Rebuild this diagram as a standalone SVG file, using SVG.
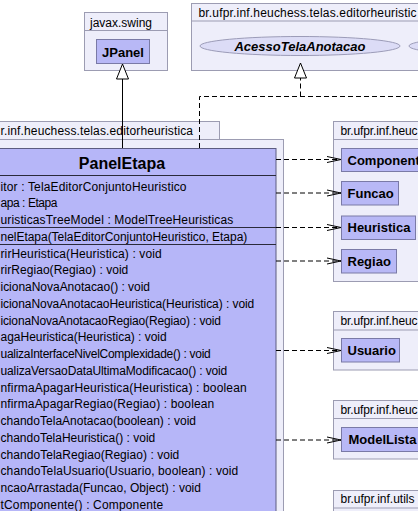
<svg xmlns="http://www.w3.org/2000/svg" width="418" height="511" viewBox="0 0 418 511">
<style>
text{font-family:"Liberation Sans",Arial,sans-serif;fill:#000}
.pk{fill:#EEEEFA;stroke:#9C9CB2;stroke-width:1}
.pl{font-size:12px}
.cl{fill:#B8B8F6;stroke:#7A7AA6;stroke-width:1}
.cn{font-size:13px;font-weight:bold}
.mb{font-size:12px}
.sep{stroke:#2A2A3A;stroke-width:1}
.if{fill:#DCDCF6;stroke:#9C9CB8;stroke-width:1}
.dep{fill:none;stroke:#000;stroke-width:1;stroke-dasharray:5,3}
.gen{fill:none;stroke:#000;stroke-width:1}
</style>
<defs>
<marker id="open" viewBox="-1 -4 16 8" refX="14" refY="0" markerWidth="16" markerHeight="8" markerUnits="userSpaceOnUse" orient="auto">
<path d="M0,-3 L14,0 L0,3" fill="none" stroke="#000" stroke-width="1" stroke-dasharray="none"/>
</marker>
<marker id="tri" viewBox="-1 -7 17 14" refX="15" refY="0" markerWidth="17" markerHeight="14" markerUnits="userSpaceOnUse" orient="auto">
<path d="M0,-6 L15,0 L0,6 Z" fill="#fff" stroke="#000" stroke-width="1" stroke-dasharray="none"/>
</marker>
</defs>

<g id="pkg-swing">
<rect class="pk" x="84.5" y="12.5" width="83" height="58"/>
<line class="pk" x1="84.5" y1="30.5" x2="167.5" y2="30.5"/>
<text class="pl" x="90" y="26.5">javax.swing</text>
</g>
<g id="JPanel">
<rect class="cl" x="96.5" y="39.5" width="53" height="24"/>
<text class="cn" x="123" y="56.5" text-anchor="middle">JPanel</text>
</g>

<g id="pkg-editor-top">
<rect class="pk" x="191.5" y="3.5" width="240" height="67"/>
<line class="pk" x1="191.5" y1="21" x2="431.5" y2="21"/>
<text class="pl" x="198.5" y="17.3" textLength="218" lengthAdjust="spacing">br.ufpr.inf.heuchess.telas.editorheuristic</text>
</g>
<g id="AcessoTelaAnotacao">
<ellipse class="if" cx="300" cy="46" rx="100" ry="9.5"/>
<text x="300" y="50.7" text-anchor="middle" style="font-size:13px;font-weight:bold;font-style:italic">AcessoTelaAnotacao</text>
</g>
<g id="interface2">
<ellipse class="if" cx="509" cy="46" rx="100" ry="9.5"/>
</g>

<g id="pkg-editor">
<rect class="pk" x="-50" y="121.5" width="269.5" height="18"/>
<rect class="pk" x="-50" y="139.5" width="333.5" height="400"/>
<text class="pl" x="0.5" y="135" textLength="192.5" lengthAdjust="spacing">r.inf.heuchess.telas.editorheuristica</text>
</g>
<g id="PanelEtapa">
<rect x="-40" y="148.5" width="316" height="400" fill="#B6B6F8" stroke="#5C5C80" stroke-width="1"/>
<text x="122" y="168.5" text-anchor="middle" style="font-size:16px;font-weight:bold">PanelEtapa</text>
<line class="sep" x1="-40" y1="175.5" x2="276" y2="175.5"/>
<text class="mb" x="0.5" y="190.7" textLength="186" lengthAdjust="spacing">itor : TelaEditorConjuntoHeuristico</text>
<text class="mb" x="0.5" y="207.3" textLength="57" lengthAdjust="spacing">apa : Etapa</text>
<text class="mb" x="0.5" y="224" textLength="232.8" lengthAdjust="spacing">uristicasTreeModel : ModelTreeHeuristicas</text>
<line class="sep" x1="-40" y1="227.5" x2="276" y2="227.5"/>
<text class="mb" x="0.5" y="241" textLength="246.8" lengthAdjust="spacing">nelEtapa(TelaEditorConjuntoHeuristico, Etapa)</text>
<line class="sep" x1="-40" y1="244.5" x2="276" y2="244.5"/>
<text class="mb" x="0.5" y="257.5" textLength="161.2" lengthAdjust="spacing">rirHeuristica(Heuristica) : void</text>
<text class="mb" x="0.5" y="274.25" textLength="127.8" lengthAdjust="spacing">rirRegiao(Regiao) : void</text>
<text class="mb" x="0.5" y="291" textLength="149.5" lengthAdjust="spacing">icionaNovaAnotacao() : void</text>
<text class="mb" x="0.5" y="307.75" textLength="253.8" lengthAdjust="spacing">icionaNovaAnotacaoHeuristica(Heuristica) : void</text>
<text class="mb" x="0.5" y="324.5" textLength="220.5" lengthAdjust="spacing">icionaNovaAnotacaoRegiao(Regiao) : void</text>
<text class="mb" x="0.5" y="341.25" textLength="166.2" lengthAdjust="spacing">agaHeuristica(Heuristica) : void</text>
<text class="mb" x="0.5" y="358" textLength="210.2" lengthAdjust="spacing">ualizaInterfaceNivelComplexidade() : void</text>
<text class="mb" x="0.5" y="374.75" textLength="226.8" lengthAdjust="spacing">ualizaVersaoDataUltimaModificacao() : void</text>
<text class="mb" x="0.5" y="391.5" textLength="246.2" lengthAdjust="spacing">nfirmaApagarHeuristica(Heuristica) : boolean</text>
<text class="mb" x="0.5" y="408.25" textLength="213.8" lengthAdjust="spacing">nfirmaApagarRegiao(Regiao) : boolean</text>
<text class="mb" x="0.5" y="425" textLength="195.5" lengthAdjust="spacing">chandoTelaAnotacao(boolean) : void</text>
<text class="mb" x="0.5" y="441.75" textLength="154.8" lengthAdjust="spacing">chandoTelaHeuristica() : void</text>
<text class="mb" x="0.5" y="458.5" textLength="178.8" lengthAdjust="spacing">chandoTelaRegiao(Regiao) : void</text>
<text class="mb" x="0.5" y="475.25" textLength="237.8" lengthAdjust="spacing">chandoTelaUsuario(Usuario, boolean) : void</text>
<text class="mb" x="0.5" y="492" textLength="200.5" lengthAdjust="spacing">ncaoArrastada(Funcao, Object) : void</text>
<text class="mb" x="0.5" y="508.75" textLength="162.8" lengthAdjust="spacing">tComponente() : Componente</text>
</g>

<g id="pkg-heuchess-1">
<rect class="pk" x="333.5" y="121.5" width="120" height="160"/>
<line class="pk" x1="333.5" y1="139.5" x2="453.5" y2="139.5"/>
<text class="pl" x="340.5" y="135" textLength="77" lengthAdjust="spacing">br.ufpr.inf.heuc</text>
</g>
<g id="Componente">
<rect class="cl" x="341.5" y="148.5" width="93" height="23"/>
<text class="cn" x="347.5" y="164.6">Componente</text>
</g>
<g id="Funcao">
<rect class="cl" x="341.5" y="181.5" width="57" height="23.5"/>
<text class="cn" x="347.5" y="197.8">Funcao</text>
</g>
<g id="Heuristica">
<rect class="cl" x="341.5" y="216" width="74" height="23.5"/>
<text class="cn" x="347.5" y="232.3">Heuristica</text>
</g>
<g id="Regiao">
<rect class="cl" x="341.5" y="249.5" width="55" height="23.5"/>
<text class="cn" x="347.5" y="265.8">Regiao</text>
</g>

<g id="pkg-heuchess-2">
<rect class="pk" x="333.5" y="311.5" width="120" height="58.5"/>
<line class="pk" x1="333.5" y1="330" x2="453.5" y2="330"/>
<text class="pl" x="340.5" y="325" textLength="77" lengthAdjust="spacing">br.ufpr.inf.heuc</text>
</g>
<g id="Usuario">
<rect class="cl" x="341.5" y="338.5" width="58" height="23.5"/>
<text class="cn" x="347.5" y="355">Usuario</text>
</g>

<g id="pkg-heuchess-3">
<rect class="pk" x="333.5" y="400.5" width="120" height="58.5"/>
<line class="pk" x1="333.5" y1="418.5" x2="453.5" y2="418.5"/>
<text class="pl" x="340.5" y="414" textLength="77" lengthAdjust="spacing">br.ufpr.inf.heuc</text>
</g>
<g id="ModelLista">
<rect class="cl" x="341.5" y="427.5" width="82" height="24"/>
<text class="cn" x="348.5" y="444.3">ModelLista</text>
</g>

<g id="pkg-utils">
<rect class="pk" x="333.5" y="490.5" width="120" height="40"/>
<line class="pk" x1="333.5" y1="508" x2="453.5" y2="508"/>
<text class="pl" x="340.5" y="503.3">br.ufpr.inf.utils</text>
</g>

<g id="connectors">
<path class="gen" d="M122.5,148 V64" marker-end="url(#tri)"/>
<path class="dep" d="M199.5,148 V96.5 H430"/>
<path class="dep" d="M300.5,96.5 V63" marker-end="url(#tri)"/>
<path class="dep" d="M276,159.5 H341" marker-end="url(#open)"/>
<path class="dep" d="M276,193 H341" marker-end="url(#open)"/>
<path class="dep" d="M276,227.5 H341" marker-end="url(#open)"/>
<path class="dep" d="M276,261 H341" marker-end="url(#open)"/>
<path class="dep" d="M276,350.5 H341" marker-end="url(#open)"/>
<path class="dep" d="M276,440 H341" marker-end="url(#open)"/>
</g>
</svg>
